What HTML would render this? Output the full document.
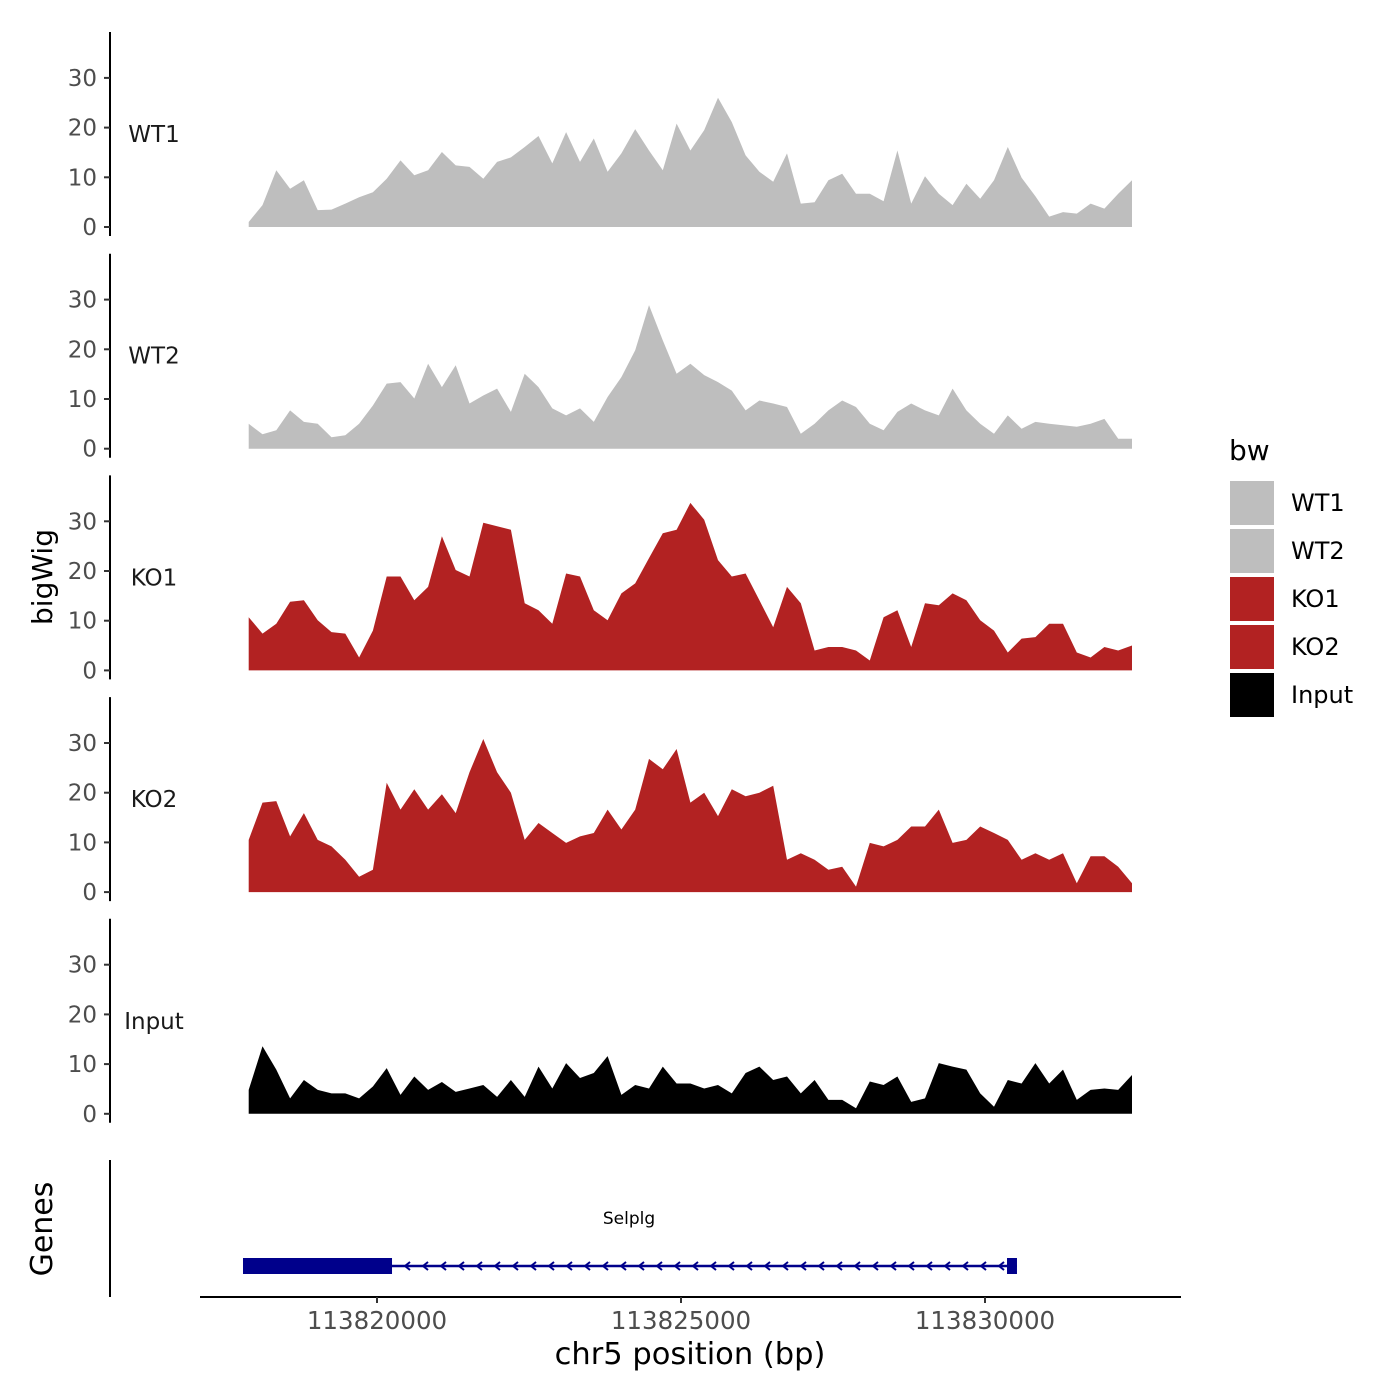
<!DOCTYPE html>
<html><head><meta charset="utf-8"><style>
html,body{margin:0;padding:0;background:#fff;}
svg{display:block;font-family:"DejaVu Sans","Liberation Sans",sans-serif;}
</style></head><body>
<svg id="chart" width="1400" height="1400" viewBox="0 0 1400 1400" xmlns="http://www.w3.org/2000/svg">
<rect width="1400" height="1400" fill="#fff"/>
<g id="tracks"></g>
<g id="genes"></g>
<g id="xaxis"></g>
<text transform="translate(52,577) rotate(-90)" text-anchor="middle" font-size="28" fill="#000">bigWig</text>
<text transform="translate(52,1229) rotate(-90)" text-anchor="middle" font-size="30" fill="#000">Genes</text>
<text x="690" y="1364" text-anchor="middle" font-size="30.5" fill="#000">chr5 position (bp)</text>
<g>
<text x="1229" y="460" font-size="28" fill="#000">bw</text>
<g id="legend"></g>
</g>
</svg>
<script>
const binStart = 113817890;
const binSize = 227;
const trackNames = ["WT1","WT2","KO1","KO2","Input"];
const trackColors = ["#bebebe","#bebebe","#b22222","#b22222","#000000"];
const yTicks = [0,10,20,30];
const xTicks = [113820000,113825000,113830000];
const wt1 = [1,4.4,11.4,7.7,9.4,3.4,3.5,4.7,6.0,7.0,9.7,13.4,10.4,11.4,15.1,12.4,12.1,9.7,13.1,14.0,16.1,18.3,12.8,19.1,13.1,17.8,11.1,14.8,19.7,15.4,11.4,20.8,15.4,19.5,26.0,21.1,14.4,11.1,9.1,14.8,4.7,5.0,9.4,10.7,6.7,6.7,5.2,15.4,4.7,10.2,6.7,4.4,8.7,5.7,9.4,16.1,9.9,6.2,2.1,3.0,2.7,4.7,3.7,6.7,9.4];
const wt2 = [5.0,2.9,3.7,7.7,5.4,5.0,2.3,2.7,5.0,8.7,13.1,13.4,10.1,17.1,12.4,16.8,9.1,10.7,12.1,7.4,15.1,12.4,8.1,6.7,8.1,5.4,10.4,14.4,19.8,28.9,21.8,15.1,17.1,14.8,13.4,11.7,7.7,9.7,9.1,8.4,3.0,5.0,7.7,9.7,8.4,5.0,3.7,7.4,9.1,7.7,6.7,12.1,7.7,5.0,3.0,6.7,4.0,5.4,5.0,4.7,4.4,5.0,6.0,2.0,2.0];
const ko1 = [10.7,7.4,9.4,13.8,14.1,10.1,7.7,7.4,2.6,8.0,18.9,18.9,14.1,16.8,27.0,20.2,18.9,29.7,29.0,28.3,13.5,12.1,9.4,19.5,18.9,12.1,10.1,15.5,17.5,22.6,27.6,28.3,33.7,30.3,22.2,18.9,19.5,14.1,8.7,16.8,13.5,4.0,4.7,4.7,4.0,2.0,10.7,12.1,4.7,13.5,13.1,15.5,14.1,10.1,8.0,3.6,6.4,6.7,9.4,9.4,3.6,2.6,4.7,4.0,5.0];
const ko2 = [10.5,18.0,18.3,11.2,15.9,10.5,9.2,6.5,3.1,4.5,22.0,16.6,20.7,16.6,19.7,15.9,24.1,30.8,24.1,20.0,10.5,13.9,11.9,9.9,11.2,11.9,16.6,12.6,16.6,26.8,24.7,28.8,18.0,20.0,15.3,20.7,19.3,20.0,21.4,6.5,7.8,6.5,4.5,5.1,1.1,9.9,9.2,10.5,13.2,13.2,16.6,9.9,10.5,13.2,11.9,10.5,6.5,7.8,6.5,7.8,1.8,7.2,7.2,5.1,1.8];
const input = [4.8,13.6,8.9,3.1,6.8,4.8,4.1,4.1,3.1,5.5,9.2,3.8,7.5,4.8,6.4,4.4,5.1,5.8,3.4,6.8,3.4,9.5,5.1,10.2,7.2,8.2,11.6,3.8,5.8,5.1,9.5,6.1,6.1,5.1,5.8,4.1,8.2,9.5,6.8,7.5,4.1,6.8,2.8,2.8,1.1,6.5,5.8,7.5,2.4,3.1,10.2,9.5,8.9,4.1,1.4,6.8,6.1,10.2,6.1,8.9,2.8,4.8,5.1,4.8,7.8];
const trackValues = [wt1,wt2,ko1,ko2,input];
const geneName = "Selplg";
const geneStart = 113817796, geneEnd = 113830526;
const exonStarts = [113817796,113830362];
const exonEnds = [113820247,113830526];

const NS="http://www.w3.org/2000/svg";
function xs(bp){ return 377 + (bp-113820000)*0.0608; }
function trackTop(k){ return 32 + k*221.7; }
function ys(k,v){ return 227 + k*221.7 - v*4.97; }
function mk(tag,attrs,parent){const e=document.createElementNS(NS,tag);for(const a in attrs)e.setAttribute(a,attrs[a]);parent.appendChild(e);return e;}

const tg=document.getElementById('tracks');
trackValues.forEach((vals,k)=>{
  const g=mk('g',{},tg);
  
  
  const base=ys(k,0);
  let d='M'+xs(binStart).toFixed(1)+','+base;
  vals.forEach((v,i)=>{ d+=' L'+xs(binStart+i*binSize).toFixed(1)+','+ys(k,v).toFixed(1); });
  d+=' L'+xs(binStart+(vals.length-1)*binSize).toFixed(1)+','+base+' Z';
  const p=mk('path',{d:d,fill:trackColors[k]},g);
  
  
  const ax=mk('line',{x1:110,x2:110,y1:trackTop(k),y2:base+9,stroke:'#000','stroke-width':2},g);
  
  
  yTicks.forEach(t=>{
    const y=ys(k,t);
    const tk=mk('line',{x1:104,x2:110,y1:y,y2:y,stroke:'#333','stroke-width':2},g);
    
    
    const tl=mk('text',{x:97,y:y+8,'text-anchor':'end','font-size':23,fill:'#4d4d4d'},g);
    tl.textContent=t;
    
    
  });
  const lab=mk('text',{x:154,y:ys(k,0)-85,'text-anchor':'middle','font-size':23,fill:'#1a1a1a'},g);
  lab.textContent=trackNames[k];
  
  
});

// genes
const gg=document.getElementById('genes');
const gax=mk('line',{x1:110,x2:110,y1:1160,y2:1297,stroke:'#000','stroke-width':2},gg);


const gl=mk('line',{x1:xs(geneStart),x2:xs(geneEnd),y1:1266,y2:1266,stroke:'#00008b','stroke-width':2.5},gg);


for(let x=xs(exonEnds[0])+14;x<xs(exonStarts[1])-4;x+=18){
  const a=mk('path',{d:'M'+(x+4)+',1262 L'+(x-1)+',1266 L'+(x+4)+',1270',stroke:'#00008b','stroke-width':2,fill:'none'},gg);
  
  
}
exonStarts.forEach((s,i)=>{
  const r=mk('rect',{x:xs(s),y:1258,width:xs(exonEnds[i])-xs(s),height:16,fill:'#00008b'},gg);
  
  
});
const gn=mk('text',{x:629,y:1224,'text-anchor':'middle','font-size':17,fill:'#000'},gg);
gn.textContent=geneName;



// x axis
const xg=document.getElementById('xaxis');
const xl=mk('line',{x1:200,x2:1181,y1:1297,y2:1297,stroke:'#000','stroke-width':2},xg);


xTicks.forEach(t=>{
  const tk=mk('line',{x1:xs(t),x2:xs(t),y1:1297,y2:1303,stroke:'#333','stroke-width':2},xg);
  
  
  const tl=mk('text',{x:xs(t),y:1329,'text-anchor':'middle','font-size':24.5,fill:'#4d4d4d'},xg);
  tl.textContent=t;
  
  
});

// legend
const lg=document.getElementById('legend');
trackNames.forEach((n,i)=>{
  const y=480+i*48;
  const r=mk('rect',{x:1229,y:y,width:46,height:46,fill:trackColors[i],stroke:'#fff','stroke-width':2},lg);
  
  
  const t=mk('text',{x:1291,y:y+31,'font-size':24,fill:'#000'},lg);
  t.textContent=n;
  
  
});
</script>
</body></html>
